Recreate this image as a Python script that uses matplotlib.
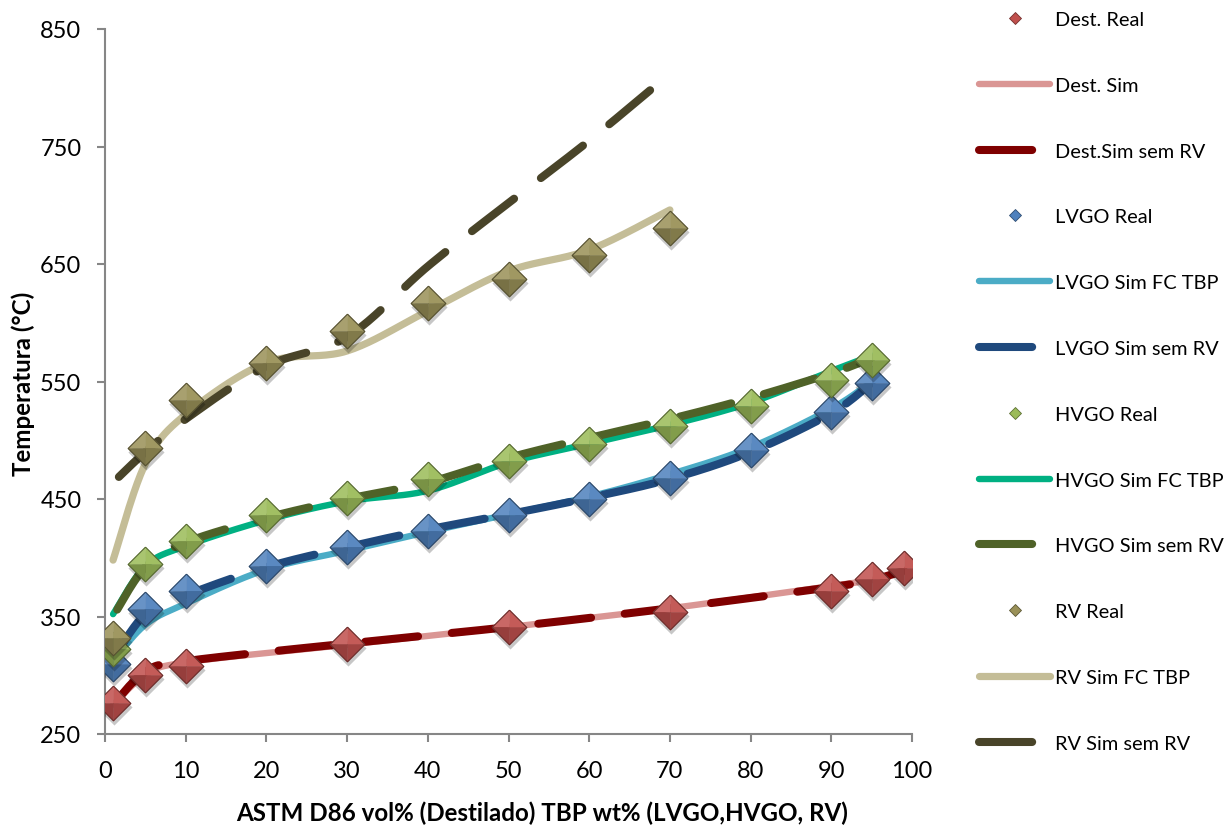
import numpy as np
import matplotlib
matplotlib.use("Agg")
import matplotlib.pyplot as plt
from matplotlib.lines import Line2D
from matplotlib import transforms
from matplotlib.colors import to_rgb

# ---- data ----
dest_x = [1, 5, 10, 30, 50, 70, 90, 95, 99]
dest_real = [276, 300, 308, 327, 341, 354, 372, 382, 391]
dest_sim = [275, 300, 311, 326, 341, 357, 376, 381, 388]
dest_sim_sem_rv = [275, 303, 312, 327, 341, 357, 375, 381, 389]

vgo_x = [1, 5, 10, 20, 30, 40, 50, 60, 70, 80, 90, 95]
lvgo_real = [310, 356, 372, 393, 409, 423, 436, 450, 468, 492, 524, 549]
lvgo_sim_fc = [312, 343, 361, 390, 406, 422, 437, 452, 471, 494, 527, 550]
lvgo_sim_sem_rv = [314, 352, 368, 392, 409, 424, 437, 451, 467, 490, 523, 549]
hvgo_real = [322, 395, 414, 436, 451, 467, 482, 497, 512, 529, 551, 568]
hvgo_sim_fc = [352, 393, 410, 432, 448, 457, 481, 497, 513, 532, 559, 572]
hvgo_sim_sem_rv = [350, 392, 413, 434, 450, 464, 485, 502, 518, 536, 557, 570]

rv_x = [1, 5, 10, 20, 30, 40, 50, 60, 70]
rv_real = [332, 493, 534, 566, 593, 617, 637, 658, 681]
rv_sim_fc = [398, 480, 522, 566, 576, 610, 644, 662, 696]
rv_sim_sem_rv = [464, 490, 518, 563, 588, 648, 702, 755, 812]

x_ticks = [0, 10, 20, 30, 40, 50, 60, 70, 80, 90, 100]
y_ticks = [250, 350, 450, 550, 650, 750, 850]

FONT = "Lato"
plt.rcParams["font.family"] = [FONT, "DejaVu Sans"]


def smooth(x, y, sx=8.07, sy=1.176, n=24):
    """Bezier smoothing through the points (spreadsheet-style smoothed line)."""
    p = np.column_stack([np.asarray(x, float) * sx, np.asarray(y, float) * sy])
    pts = [p[0]]
    t = np.linspace(0, 1, n)[1:, None]
    for i in range(len(p) - 1):
        p0 = p[i - 1] if i > 0 else p[i]
        p1, p2 = p[i], p[i + 1]
        p3 = p[i + 2] if i + 2 < len(p) else p[i + 1]
        c1 = p1 + (p2 - p0) / 6
        c2 = p2 - (p3 - p1) / 6
        b = (1 - t) ** 3 * p1 + 3 * (1 - t) ** 2 * t * c1 + 3 * (1 - t) * t ** 2 * c2 + t ** 3 * p2
        pts.extend(b)
    pts = np.array(pts)
    return pts[:, 0] / sx, pts[:, 1] / sy


def shade(color, f):
    r, g, b = to_rgb(color)
    if f >= 1:
        return tuple(min(1, c + (1 - c) * (f - 1)) for c in (r, g, b))
    return tuple(c * f for c in (r, g, b))


TL = [(0, 0), (-1, 0), (0, 1), (0, 0)]
TR = [(0, 0), (0, 1), (1, 0), (0, 0)]
BR = [(0, 0), (1, 0), (0, -1), (0, 0)]
BL = [(0, 0), (0, -1), (-1, 0), (0, 0)]
DIAMOND = [(0, 1), (1, 0), (0, -1), (-1, 0), (0, 1)]

fig = plt.figure(figsize=(12.28, 8.28), dpi=100)
ax = fig.add_axes([105 / 1228, 1 - 735 / 828, (912 - 105) / 1228, (735 - 30) / 828])

LW_SOLID = 4.6
LW_DASH = 5.8
# long-dash pattern (in line widths), delayed slightly from the start
DASH_STYLE = (9.8, (6.6, 4.2))

lines = [
    (dest_x, dest_sim, "#DA9694", "-", LW_SOLID, "Dest. Sim"),
    (dest_x, dest_sim_sem_rv, "#7F0000", "--", LW_DASH, "Dest.Sim sem RV"),
    (vgo_x, lvgo_sim_fc, "#4BACC6", "-", LW_SOLID, "LVGO Sim FC TBP"),
    (vgo_x, lvgo_sim_sem_rv, "#1F497D", "--", LW_DASH, "LVGO Sim sem RV"),
    (vgo_x, hvgo_sim_fc, "#00B082", "-", LW_SOLID, "HVGO Sim FC TBP"),
    (vgo_x, hvgo_sim_sem_rv, "#4F6228", "--", LW_DASH, "HVGO Sim sem RV"),
    (rv_x, rv_sim_fc, "#C4BD97", "-", LW_SOLID + 0.6, "RV Sim FC TBP"),
    (rv_x, rv_sim_sem_rv, "#494429", "--", LW_DASH, "RV Sim sem RV"),
]

for xs, ys, col, ls, lw, lab in lines:
    sx, sy = smooth(xs, ys)
    if ls == "--":
        ax.plot(sx, sy, color=col, lw=lw, linestyle=DASH_STYLE, dash_capstyle="round",
                solid_capstyle="round", zorder=2)
    else:
        ax.plot(sx, sy, color=col, lw=lw, solid_capstyle="round", zorder=2)

markers = [
    (dest_x, dest_real, "#C0504D", "Dest. Real"),
    (vgo_x, lvgo_real, "#4F81BD", "LVGO Real"),
    (vgo_x, hvgo_real, "#9BBB59", "HVGO Real"),
    (rv_x, rv_real, "#9A9158", "RV Real"),
]

MS = 25
shadow_tr = transforms.offset_copy(ax.transData, fig=fig, x=1, y=-4, units="dots")
for k, (xs, ys, col, lab) in enumerate(markers):
    z = 3 + k
    ax.plot(xs, ys, ls="none", marker=DIAMOND, ms=MS + 1, mfc=(0, 0, 0, 0.22),
            mec="none", transform=shadow_tr, zorder=z)
    for verts, f in ((TL, 1.14), (TR, 1.06), (BR, 0.84), (BL, 0.78)):
        ax.plot(xs, ys, ls="none", marker=verts, ms=MS, mfc=shade(col, f),
                mec=shade(col, f), mew=0.3, zorder=z)
    ax.plot(xs, ys, ls="none", marker=DIAMOND, ms=MS, mfc="none",
            mec=shade(col, 0.55), mew=0.8, zorder=z)

ax.set_xlim(0, 100)
ax.set_ylim(250, 850)
ax.set_xticks(x_ticks)
ax.set_yticks(y_ticks)
for s in ("top", "right"):
    ax.spines[s].set_visible(False)
for s in ("left", "bottom"):
    ax.spines[s].set_color("#868686")
    ax.spines[s].set_linewidth(1.5)
ax.tick_params(axis="both", direction="out", length=6, width=1.5, color="#868686",
               labelsize=17, labelcolor="black")
ax.tick_params(axis="y", pad=11)
ax.tick_params(axis="x", pad=13)

ax.set_ylabel("Temperatura (°C)", fontsize=17.4, fontweight="bold")
ax.set_xlabel("ASTM D86 vol% (Destilado) TBP wt% (LVGO,HVGO, RV)", fontsize=17.4,
              fontweight="bold")
ax.yaxis.set_label_coords(-(105 - 23) / 807, 0.4985)
ax.xaxis.set_label_coords((542 - 105) / 807, -(813 - 735) / 705, )
ax.xaxis.label.set_va("center")
ax.yaxis.label.set_va("center")

# legend
handles = []
order = [
    ("m", 0), ("l", 0), ("l", 1),
    ("m", 1), ("l", 2), ("l", 3),
    ("m", 2), ("l", 4), ("l", 5),
    ("m", 3), ("l", 6), ("l", 7),
]
for kind, i in order:
    if kind == "m":
        xs, ys, col, lab = markers[i]
        handles.append(Line2D([], [], ls="none", marker="D", ms=6.5, mfc=col,
                              mec=shade(col, 0.6), mew=0.6, label=lab))
    else:
        xs, ys, col, ls, lw, lab = lines[i]
        if ls == "--":
            handles.append(Line2D([], [], color=col, lw=lw, linestyle=(0, (6.6, 4.2)),
                                  dash_capstyle="round", label=lab))
        else:
            handles.append(Line2D([], [], color=col, lw=lw, solid_capstyle="round",
                                  label=lab))

fig.legend(handles=handles, loc="upper left", bbox_to_anchor=(979 / 1228, 1 - 12 / 828),
           frameon=False, fontsize=14.4, handlelength=3.55, handletextpad=0.25,
           labelspacing=2.44, borderaxespad=0, borderpad=0)

fig.savefig("out.png", dpi=100, facecolor="white")
